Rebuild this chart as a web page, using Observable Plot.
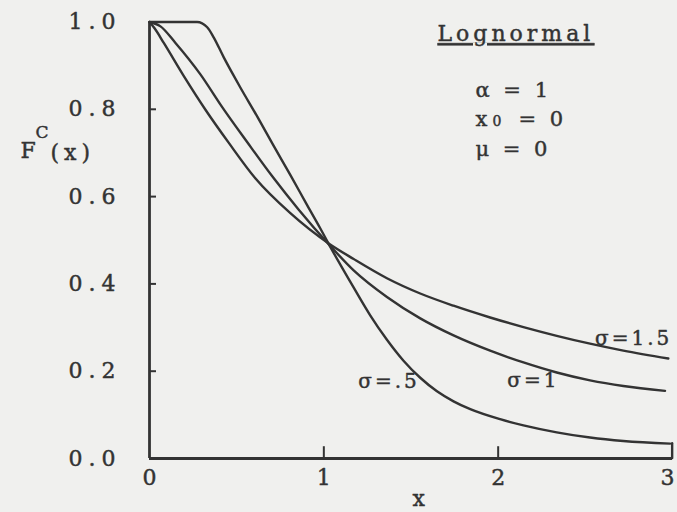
<!DOCTYPE html>
<html>
<head>
<meta charset="utf-8">
<script src="https://cdn.jsdelivr.net/npm/d3@7"></script>
<script src="https://cdn.jsdelivr.net/npm/@observablehq/plot@0.6"></script>
<style>
  html, body { margin: 0; padding: 0; background: #f0f0ee; }
  #chart svg { display: block; }
  #chart g[aria-description="ytick"] text { letter-spacing: 6px; }
  #chart g[aria-description="title"] text { letter-spacing: 4px; text-decoration: underline; text-decoration-thickness: 2px; text-underline-offset: 6px; }
  #chart g[aria-description="note"] text { letter-spacing: 3.5px; }
  #chart g[aria-description="curve-label"] text { letter-spacing: 3px; }
  #chart g[aria-description="paren"] text { letter-spacing: 5px; }
</style>
</head>
<body>
<div id="chart"></div>
<script>
// ---- tick values & labels ----
const xTicks = [0, 1, 2, 3];
const xTickLabels = ["0", "1", "2", "3"];
const yTicks = [0, 0.2, 0.4, 0.6, 0.8, 1.0];
const yTickLabels = ["0.0", "0.2", "0.4", "0.6", "0.8", "1.0"];
const xMinor = [1, 2];
const yMinor = [0.2, 0.4, 0.6, 0.8];

// ---- series: complementary CDF F^C(x) ----
const x_s05 = [0, 0.15, 0.273, 0.331, 0.368, 0.426, 0.483, 0.521, 0.62, 0.71, 0.81, 0.905, 0.98, 1.03, 1.169, 1.266, 1.362, 1.457, 1.553, 1.649, 1.744, 1.84, 2.011, 2.145, 2.336, 2.527, 2.718, 2.986];
const F_s05 = [1.0, 1.0, 1.0, 0.988, 0.965, 0.919, 0.877, 0.850, 0.782, 0.718, 0.648, 0.580, 0.527, 0.490, 0.393, 0.328, 0.272, 0.224, 0.185, 0.154, 0.131, 0.113, 0.090, 0.076, 0.060, 0.048, 0.040, 0.034];

const x_s10 = [0, 0.063, 0.149, 0.292, 0.417, 0.56, 0.703, 0.856, 1.03, 1.171, 1.362, 1.553, 1.744, 1.954, 2.145, 2.336, 2.527, 2.718, 2.957];
const F_s10 = [1.0, 0.99, 0.952, 0.880, 0.805, 0.725, 0.647, 0.570, 0.490, 0.431, 0.370, 0.321, 0.282, 0.247, 0.220, 0.197, 0.179, 0.166, 0.155];

const x_s15 = [0, 0.03, 0.082, 0.197, 0.321, 0.455, 0.607, 0.808, 1.03, 1.171, 1.362, 1.553, 1.744, 1.954, 2.145, 2.336, 2.527, 2.718, 2.976];
const F_s15 = [1.0, 0.985, 0.952, 0.876, 0.799, 0.723, 0.642, 0.562, 0.492, 0.457, 0.413, 0.378, 0.350, 0.323, 0.301, 0.281, 0.263, 0.247, 0.229];

const seriesNames = ["σ=.5", "σ=1", "σ=1.5"];
const labelX = [1.198, 2.052, 2.556];
const labelY = [0.176, 0.179, 0.275];

const titleText = "Lognormal";
const paramNames = ["α = 1", "x", "0", "= 0", "μ = 0"];

// ---- build tables ----
const seriesX = [x_s05, x_s10, x_s15];
const seriesF = [F_s05, F_s10, F_s15];
const rows = seriesNames.flatMap((s, k) => seriesX[k].map((x, i) => ({s, x, F: seriesF[k][i]})));
const curveLabels = seriesNames.map((s, i) => ({s, x: labelX[i], y: labelY[i]}));
const endHook = [{x: x_s05[x_s05.length - 1], F: F_s05[F_s05.length - 1]}];
const xTickRows = xTicks.map((v, i) => ({v, t: xTickLabels[i]}));

const ink = "#333333";
const font = "'DejaVu Serif', 'Liberation Serif', serif";
const txt = {fill: ink, stroke: ink, strokeWidth: 0.45};

const plot = Plot.plot({
  width: 677,
  height: 512,
  marginLeft: 149,
  marginRight: 5,
  marginTop: 21.5,
  marginBottom: 54,
  x: {domain: [0, 3], axis: null},
  y: {domain: [0, 1], axis: null},
  style: {fontFamily: font, background: "transparent", overflow: "visible"},
  marks: [
    // axis lines
    Plot.ruleY([0], {stroke: ink, strokeWidth: 2.8}),
    Plot.ruleX([0], {stroke: ink, strokeWidth: 2.8}),
    // inward ticks
    Plot.ruleY(yMinor, {x1: 0, x2: 0.04, stroke: ink, strokeWidth: 2}),
    Plot.ruleX(xMinor, {y1: 0, y2: 0.027, stroke: ink, strokeWidth: 2}),
    // tick labels
    Plot.text(yTicks, {y: d => d, frameAnchor: "left", dx: -28, textAnchor: "end",
      text: (d, i) => yTickLabels[i], fontSize: 22, ...txt, ariaDescription: "ytick"}),
    Plot.text(xTickRows.slice(0, 3), {x: "v", frameAnchor: "bottom", dy: 26,
      text: "t", fontSize: 22, ...txt, ariaDescription: "xtick"}),
    Plot.text(xTickRows.slice(3), {x: "v", frameAnchor: "bottom", dy: 26, dx: -5,
      text: "t", fontSize: 22, ...txt, ariaDescription: "xtick"}),
    // curves
    Plot.line(rows, {x: "x", y: "F", z: "s", curve: "monotone-x", stroke: ink, strokeWidth: 2.4}),
    Plot.ruleX(endHook, {x: d => d.x + 0.012, y1: 0, y2: "F", stroke: ink, strokeWidth: 2.4, strokeLinecap: "round"}),
    // curve labels
    Plot.text(curveLabels, {x: "x", y: "y", text: "s", textAnchor: "start", fontSize: 20, ...txt, ariaDescription: "curve-label"}),
    // title and parameters
    Plot.text([titleText], {text: d => d, frameAnchor: "top-left", dx: 288, dy: 3.5, textAnchor: "start", fontSize: 22, ...txt, ariaDescription: "title"}),
    Plot.text([paramNames[0]], {text: d => d, frameAnchor: "top-left", dx: 326, dy: 60, textAnchor: "start", fontSize: 21, ...txt, ariaDescription: "note"}),
    Plot.text([paramNames[1]], {text: d => d, frameAnchor: "top-left", dx: 326, dy: 89.5, textAnchor: "start", fontSize: 21, ...txt, ariaDescription: "note"}),
    Plot.text([paramNames[2]], {text: d => d, frameAnchor: "top-left", dx: 343, dy: 94.5, textAnchor: "start", fontSize: 14, ...txt, ariaDescription: "note"}),
    Plot.text([paramNames[3]], {text: d => d, frameAnchor: "top-left", dx: 369, dy: 89.5, textAnchor: "start", fontSize: 21, ...txt, ariaDescription: "note"}),
    Plot.text([paramNames[4]], {text: d => d, frameAnchor: "top-left", dx: 326, dy: 119.5, textAnchor: "start", fontSize: 21, ...txt, ariaDescription: "note"}),
    // y label F^C(x)
    Plot.text(["F"], {text: d => d, frameAnchor: "top-left", dx: -129, dy: 120.5, textAnchor: "start", fontSize: 22, ...txt, ariaDescription: "ylabel"}),
    Plot.text(["C"], {text: d => d, frameAnchor: "top-left", dx: -114, dy: 104.3, textAnchor: "start", fontSize: 17, ...txt, ariaDescription: "ylabel"}),
    Plot.text(["(x)"], {text: d => d, frameAnchor: "top-left", dx: -99, dy: 122, textAnchor: "start", fontSize: 22, ...txt, ariaDescription: "paren"}),
    // x label
    Plot.text(["x"], {text: d => d, frameAnchor: "top-left", dx: 263, dy: 468, fontSize: 22, ...txt, ariaDescription: "xlabel"})
  ]
});

document.getElementById("chart").appendChild(plot);
</script>
</body>
</html>
